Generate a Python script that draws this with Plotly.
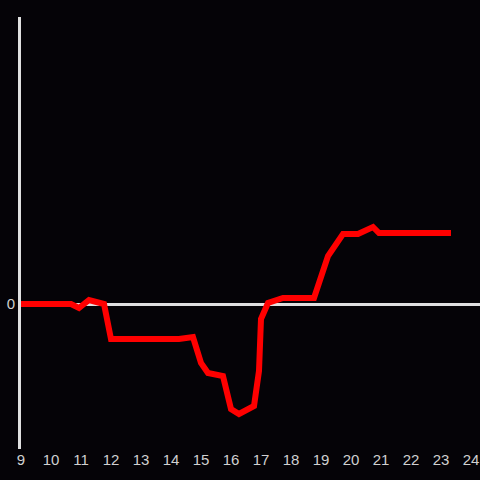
import plotly.graph_objects as go

hours = [9.0, 10.667, 10.933, 11.267, 11.767, 12.0, 14.267, 14.733, 15.0, 15.233,
         15.733, 16.0, 16.267, 16.767, 16.933, 17.0, 17.233, 17.733, 18.767, 18.933,
         19.233, 19.733, 20.233, 20.733, 20.933, 23.333]
values = [0, 0, -4, 4, 0, -35, -35, -33, -59, -69,
          -72, -105, -110, -102, -67, -15, 1, 6, 6, 21,
          48, 70, 70, 77, 71, 71]
x_ticks = list(range(9, 25))

fig = go.Figure()
fig.add_trace(go.Scatter(x=hours, y=values, mode="lines",
                         line=dict(color="#ff0000", width=6), showlegend=False))

fig.update_layout(
    width=480, height=480,
    paper_bgcolor="#050307", plot_bgcolor="#050307",
    margin=dict(l=21, r=0, t=17, b=31),
    font=dict(family="Liberation Sans, Arial, sans-serif", size=15, color="#d0d0d0"),
    xaxis=dict(range=[9, 24.3], tickvals=x_ticks, ticktext=[str(t) for t in x_ticks],
               showgrid=False, zeroline=False, showline=False, ticks="",
               tickfont=dict(size=15, color="#d0d0d0")),
    yaxis=dict(range=[-145, 287], tickvals=[0], ticktext=["0"],
               showgrid=False, zeroline=True, zerolinecolor="#e0e0e0", zerolinewidth=3,
               showline=True, linecolor="#e0e0e0", linewidth=3, ticks="",
               tickfont=dict(size=15, color="#d0d0d0")),
)
fig.write_html("out.html", config={"displayModeBar": False},
               post_script="document.body.style.margin='0';document.body.style.background='#050307';")
